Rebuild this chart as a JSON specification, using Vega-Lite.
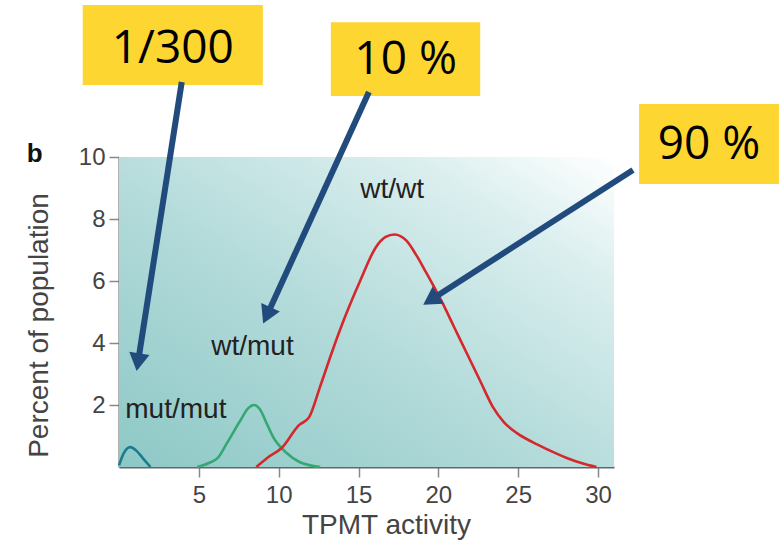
{
  "$schema": "https://vega.github.io/schema/vega-lite/v6.json",
  "width": 495,
  "height": 310,
  "autosize": {"type": "none"},
  "padding": {"left": 119, "top": 157, "right": 165, "bottom": 75},
  "background": "white",
  "view": {"stroke": null},
  "config": {"font": "Liberation Sans"},
  "datasets": {
    "curves": [
      {"genotype": "mut/mut", "activity": 0.0, "percent": 0.05},
      {"genotype": "mut/mut", "activity": 0.3, "percent": 0.45},
      {"genotype": "mut/mut", "activity": 0.7, "percent": 0.64},
      {"genotype": "mut/mut", "activity": 1.1, "percent": 0.52},
      {"genotype": "mut/mut", "activity": 1.5, "percent": 0.28},
      {"genotype": "mut/mut", "activity": 1.97, "percent": 0.0},
      {"genotype": "wt/mut", "activity": 4.9, "percent": 0.0},
      {"genotype": "wt/mut", "activity": 5.6, "percent": 0.12},
      {"genotype": "wt/mut", "activity": 6.2, "percent": 0.3},
      {"genotype": "wt/mut", "activity": 6.76, "percent": 0.77},
      {"genotype": "wt/mut", "activity": 7.6, "percent": 1.5},
      {"genotype": "wt/mut", "activity": 8.1, "percent": 1.9},
      {"genotype": "wt/mut", "activity": 8.45, "percent": 2.0},
      {"genotype": "wt/mut", "activity": 8.8, "percent": 1.88},
      {"genotype": "wt/mut", "activity": 9.3, "percent": 1.35},
      {"genotype": "wt/mut", "activity": 9.65, "percent": 0.97},
      {"genotype": "wt/mut", "activity": 10.5, "percent": 0.45},
      {"genotype": "wt/mut", "activity": 11.3, "percent": 0.16},
      {"genotype": "wt/mut", "activity": 12.6, "percent": 0.0},
      {"genotype": "wt/wt", "activity": 8.6, "percent": 0.0},
      {"genotype": "wt/wt", "activity": 9.3, "percent": 0.3},
      {"genotype": "wt/wt", "activity": 10.2, "percent": 0.62},
      {"genotype": "wt/wt", "activity": 11.27, "percent": 1.35},
      {"genotype": "wt/wt", "activity": 11.9, "percent": 1.6},
      {"genotype": "wt/wt", "activity": 12.6, "percent": 2.6},
      {"genotype": "wt/wt", "activity": 13.4, "percent": 3.8},
      {"genotype": "wt/wt", "activity": 14.2, "percent": 4.9},
      {"genotype": "wt/wt", "activity": 15.1, "percent": 6.0},
      {"genotype": "wt/wt", "activity": 16.1, "percent": 7.1},
      {"genotype": "wt/wt", "activity": 16.7, "percent": 7.42},
      {"genotype": "wt/wt", "activity": 17.25, "percent": 7.5},
      {"genotype": "wt/wt", "activity": 18.0, "percent": 7.3},
      {"genotype": "wt/wt", "activity": 18.6, "percent": 6.85},
      {"genotype": "wt/wt", "activity": 19.25, "percent": 6.26},
      {"genotype": "wt/wt", "activity": 20.25, "percent": 5.3},
      {"genotype": "wt/wt", "activity": 21.0, "percent": 4.5},
      {"genotype": "wt/wt", "activity": 21.75, "percent": 3.7},
      {"genotype": "wt/wt", "activity": 22.6, "percent": 2.8},
      {"genotype": "wt/wt", "activity": 23.4, "percent": 1.95},
      {"genotype": "wt/wt", "activity": 24.1, "percent": 1.45},
      {"genotype": "wt/wt", "activity": 24.9, "percent": 1.1},
      {"genotype": "wt/wt", "activity": 25.9, "percent": 0.8},
      {"genotype": "wt/wt", "activity": 26.9, "percent": 0.55},
      {"genotype": "wt/wt", "activity": 28.0, "percent": 0.3},
      {"genotype": "wt/wt", "activity": 29.0, "percent": 0.12},
      {"genotype": "wt/wt", "activity": 29.9, "percent": 0.0}
    ],
    "labels": [
      {"label": "mut/mut", "activity": 3.56, "percent": 1.58},
      {"label": "wt/mut", "activity": 8.36, "percent": 3.61},
      {"label": "wt/wt", "activity": 17.1, "percent": 8.68}
    ],
    "boxes": [
      {"text": "1/300", "x0": -2.27, "x1": 9.01, "y0": 12.32, "y1": 14.9, "tx": 3.37, "ty": 13.5},
      {"text": "10 %", "x0": 13.27, "x1": 22.62, "y0": 11.97, "y1": 14.35, "tx": 17.95, "ty": 13.12},
      {"text": "90 %", "x0": 32.57, "x1": 41.33, "y0": 9.13, "y1": 11.71, "tx": 36.95, "ty": 10.4}
    ],
    "arrows": [
      {"x0": 3.93, "y0": 12.42, "x1": 1.19, "y1": 3.38, "angle": 188.9},
      {"x0": 15.65, "y0": 12.1, "x1": 9.26, "y1": 4.89, "angle": 204.5},
      {"x0": 32.19, "y0": 9.58, "x1": 19.52, "y1": 5.39, "angle": 237.3}
    ],
    "panel": [{"tag": "b", "x": -5.28, "y": 10.1}]
  },
  "layer": [
    {
      "data": {"values": [{}]},
      "mark": {
        "type": "rect",
        "color": {
          "gradient": "linear",
          "x1": 0, "y1": 1, "x2": 1, "y2": 0,
          "stops": [
            {"offset": 0, "color": "#8dc8c6"},
            {"offset": 0.45, "color": "#b3dbda"},
            {"offset": 0.8, "color": "#dcefef"},
            {"offset": 1, "color": "#ffffff"}
          ]
        }
      },
      "encoding": {
        "x": {"datum": 0, "type": "quantitative", "scale": {"domain": [0, 31], "nice": false}},
        "x2": {"datum": 31},
        "y": {"datum": 0, "type": "quantitative", "scale": {"domain": [0, 10], "nice": false}},
        "y2": {"datum": 10}
      }
    },
    {
      "data": {"name": "curves"},
      "mark": {"type": "line", "interpolate": "monotone", "strokeWidth": 2.6},
      "encoding": {
        "x": {
          "field": "activity", "type": "quantitative",
          "scale": {"domain": [0, 31], "nice": false},
          "axis": {
            "title": "TPMT activity", "values": [5, 10, 15, 20, 25, 30], "grid": false,
            "domainColor": "#666", "domainWidth": 2, "tickColor": "#888", "tickSize": 10, "tickWidth": 1.5,
            "labelFontSize": 24, "labelColor": "#444", "labelPadding": 6, "labelFont": "Liberation Sans",
            "titleFontSize": 28, "titleFontWeight": "normal", "titleColor": "#444", "titleFont": "Liberation Sans",
            "titleX": 267, "titleY": 66, "titleBaseline": "alphabetic", "titleAnchor": "middle"
          }
        },
        "y": {
          "field": "percent", "type": "quantitative",
          "scale": {"domain": [0, 10], "nice": false},
          "axis": {
            "title": "Percent of population", "values": [2, 4, 6, 8, 10], "grid": false,
            "domainColor": "#666", "domainWidth": 2, "tickColor": "#888", "tickSize": 10, "tickWidth": 1.5,
            "labelFontSize": 24, "labelColor": "#444", "labelPadding": 4, "labelFont": "Liberation Sans",
            "titleFontSize": 28, "titleFontWeight": "normal", "titleColor": "#444", "titleFont": "Liberation Sans",
            "titleX": -72, "titleY": 168, "titleBaseline": "alphabetic", "titleAnchor": "middle"
          }
        },
        "color": {
          "field": "genotype", "type": "nominal",
          "scale": {"domain": ["mut/mut", "wt/mut", "wt/wt"], "range": ["#1a7d8c", "#35a872", "#d4282d"]},
          "legend": null
        }
      }
    },
    {
      "data": {"name": "labels"},
      "mark": {"type": "text", "font": "Liberation Sans", "fontSize": 28, "color": "#222", "baseline": "alphabetic", "align": "center"},
      "encoding": {
        "x": {"field": "activity", "type": "quantitative"},
        "y": {"field": "percent", "type": "quantitative"},
        "text": {"field": "label"}
      }
    },
    {
      "data": {"name": "boxes"},
      "mark": {"type": "rect", "color": "#fed631"},
      "encoding": {
        "x": {"field": "x0", "type": "quantitative"},
        "x2": {"field": "x1"},
        "y": {"field": "y0", "type": "quantitative"},
        "y2": {"field": "y1"}
      }
    },
    {
      "data": {"name": "boxes"},
      "mark": {"type": "text", "font": "Open Sans", "fontSize": 46, "color": "#000", "baseline": "middle", "align": "center"},
      "encoding": {
        "x": {"field": "tx", "type": "quantitative"},
        "y": {"field": "ty", "type": "quantitative"},
        "text": {"field": "text"}
      }
    },
    {
      "data": {"name": "arrows"},
      "mark": {"type": "rule", "color": "#214b7d", "strokeWidth": 6},
      "encoding": {
        "x": {"field": "x0", "type": "quantitative"},
        "y": {"field": "y0", "type": "quantitative"},
        "x2": {"field": "x1"},
        "y2": {"field": "y1"}
      }
    },
    {
      "data": {"name": "arrows"},
      "mark": {"type": "point", "shape": "triangle-up", "filled": true, "color": "#214b7d", "size": 420, "opacity": 1},
      "encoding": {
        "x": {"field": "x1", "type": "quantitative"},
        "y": {"field": "y1", "type": "quantitative"},
        "angle": {"field": "angle", "type": "quantitative", "scale": null}
      }
    },
    {
      "data": {"name": "panel"},
      "mark": {"type": "text", "font": "Liberation Sans", "fontSize": 26, "fontWeight": "bold", "color": "#111", "baseline": "middle", "align": "center"},
      "encoding": {
        "x": {"field": "x", "type": "quantitative"},
        "y": {"field": "y", "type": "quantitative"},
        "text": {"field": "tag"}
      }
    }
  ]
}
